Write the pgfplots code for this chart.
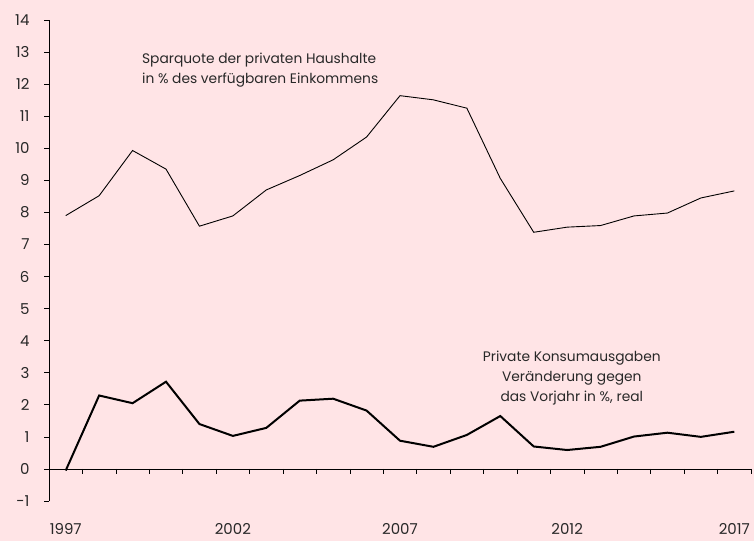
\documentclass[border=0pt]{standalone}
\usepackage{pgfplots}
\pgfplotsset{compat=1.18}
\usepackage{fontspec}
\setmainfont{Poppins}
\usetikzlibrary{backgrounds}
\definecolor{bg}{RGB}{255,228,230}
\definecolor{txt}{RGB}{40,40,40}
\definecolor{thin}{RGB}{60,60,60}

\pgfplotstableread{
year spar kons
1997 7.90 -0.05
1998 8.52 2.29
1999 9.93 2.05
2000 9.35 2.72
2001 7.57 1.40
2002 7.89 1.03
2003 8.70 1.28
2004 9.15 2.13
2005 9.64 2.19
2006 10.35 1.82
2007 11.64 0.88
2008 11.51 0.69
2009 11.25 1.06
2010 9.06 1.65
2011 7.38 0.70
2012 7.54 0.59
2013 7.59 0.69
2014 7.89 1.01
2015 7.98 1.13
2016 8.45 1.00
2017 8.67 1.16
}\data

\begin{document}
\begin{tikzpicture}
\begin{axis}[name=ax,
    scale only axis, width=702bp, height=481bp,
    xmin=1996.5, xmax=2017.5, ymin=-1, ymax=14,
    axis x line=bottom, axis y line=left,
    axis line style={-},
    x axis line style={draw=none},
    xtick={1997,2002,2007,2012,2017},
    x tick style={draw=none},
    ytick={-1,0,...,14},
    tick align=outside, major tick length=5bp,
    y tick style={black, line width=0.6bp},
    y axis line style={line width=0.8bp},
    xticklabel style={yshift=-14bp},
    yticklabel style={xshift=-11bp},
    x tick label style={/pgf/number format/1000 sep={}},
    /pgf/number format/assume math mode=true,
    ticklabel style={font=\fontsize{15bp}{18bp}\selectfont, text=txt},
    clip=false,
]
\addplot[thin, line width=0.9bp] table[x=year, y=spar] {\data};
\addplot[black, line width=2bp] table[x=year, y=kons] {\data};

\draw[black, line width=0.8bp] (axis cs:1996.5,0) -- (axis cs:2017.5,0);
\pgfplotsinvokeforeach{1997.5,1998.5,...,2017.5}{
  \draw[black, line width=0.6bp] (axis cs:#1,0) -- ([yshift=-5bp]axis cs:#1,0);
}

\node[anchor=west, align=left, inner sep=0, text=txt,
  font=\fontsize{13.8bp}{20bp}\selectfont] at (axis cs:1999.28,12.44)
  {Sparquote der privaten Haushalte\\in \% des verfügbaren Einkommens};
\node[anchor=center, align=center, inner sep=0, text=txt,
  font=\fontsize{13.8bp}{20bp}\selectfont] at (axis cs:2012.14,2.84)
  {Private Konsumausgaben\\Veränderung gegen\\das Vorjahr in \%, real};
\end{axis}
\begin{scope}[on background layer]
\fill[bg] ([xshift=-49bp,yshift=-40bp]ax.south west) rectangle ([xshift=3bp,yshift=20bp]ax.north east);
\end{scope}
\end{tikzpicture}
\end{document}
